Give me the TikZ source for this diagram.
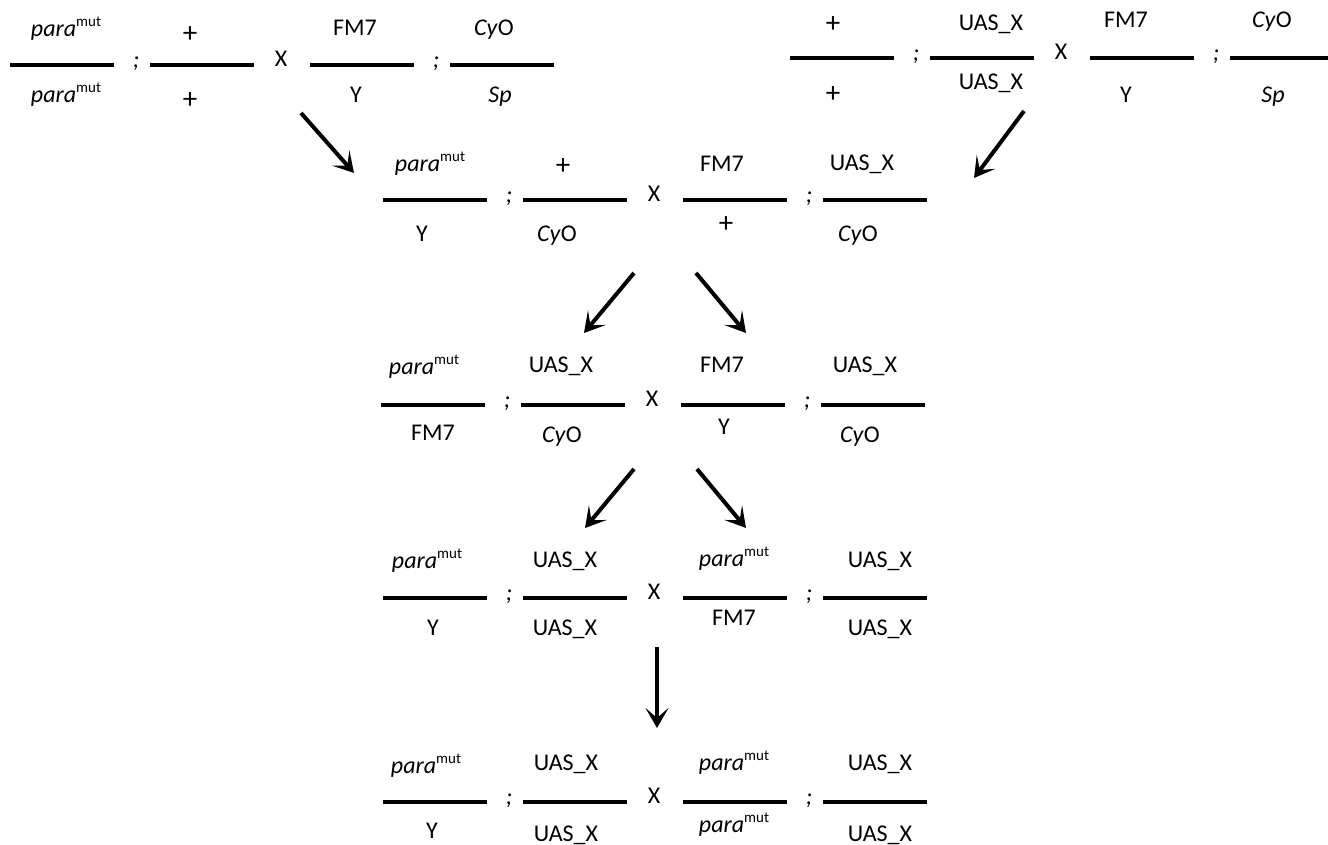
\documentclass[tikz,border=0pt]{standalone}
\usepackage{fontspec}
\setmainfont{Carlito}
\usetikzlibrary{arrows.meta}
\newcommand\pmut{\textit{para}\raisebox{0.42em}{\fontsize{15}{15}\selectfont mut}}
\newcommand\cyo{\textit{Cy}O}
\newcommand\spp{\textit{Sp}}
\newcommand\uas{UAS\_X}
\newcommand\plus{{\fontsize{29}{30}\selectfont +}}
% #1 name prefix, #2 x start of first line, #3 line y
\newcommand\crossrow[3]{%
  \draw[seg] (#2,#3) -- ++(104,0);
  \draw[seg] (#2+140,#3) -- ++(104,0);
  \draw[seg] (#2+300,#3) -- ++(104,0);
  \draw[seg] (#2+440,#3) -- ++(104,0);
  \node[sep] (#1-sc1) at (#2+126,#3) {;};
  \node[lbl] (#1-x) at (#2+271,#3-1) {X};
  \node[sep] (#1-sc2) at (#2+426,#3) {;};
}
\newcommand\lab[4]{\node[lbl] (#1) at (#2,#3) {#4};}
\begin{document}
\begin{tikzpicture}[x=1pt,y=-1pt,
  seg/.style={line width=4pt},
  lbl/.style={font=\fontsize{24}{28}\selectfont, inner sep=0pt, anchor=mid},
  sep/.style={lbl, font=\fontsize{24}{28}\selectfont\itshape},
  arr/.style={line width=4pt, -{Stealth[length=20pt,width=23pt,inset=10pt]}}]
\useasboundingbox (0,0) rectangle (1328,845);
\clip (0,0) rectangle (1328,845);

% row 1 left
\crossrow{ra}{10}{65}
\lab{ra-t1}{66}{34}{\pmut}
\lab{ra-t2}{190}{40}{\plus}
\lab{ra-t3}{355}{33}{FM7}
\lab{ra-t4}{494}{33}{\cyo}
\lab{ra-b1}{66}{100}{\pmut}
\lab{ra-b2}{190}{106}{\plus}
\lab{ra-b3}{356}{100}{Y}
\lab{ra-b4}{500}{100}{\spp}

% row 1 right
\crossrow{rb}{790}{58}
\lab{rb-t1}{833}{30}{\plus}
\lab{rb-t2}{991}{28}{\uas}
\lab{rb-t3}{1126}{25}{FM7}
\lab{rb-t4}{1272}{25}{\cyo}
\lab{rb-b1}{833}{100}{\plus}
\lab{rb-b2}{991}{87}{\uas}
\lab{rb-b3}{1126}{100}{Y}
\lab{rb-b4}{1273}{100}{\spp}

% row 2
\crossrow{rc}{383}{200}
\lab{rc-t1}{430}{169}{\pmut}
\lab{rc-t2}{563}{172}{\plus}
\lab{rc-t3}{722}{169}{FM7}
\lab{rc-t4}{862}{168}{\uas}
\lab{rc-b1}{422}{239}{Y}
\lab{rc-b2}{557}{239}{\cyo}
\lab{rc-b3}{726}{230}{\plus}
\lab{rc-b4}{858}{239}{\cyo}

% row 3
\crossrow{rd}{381}{405}
\lab{rd-t1}{424}{372}{\pmut}
\lab{rd-t2}{561}{370}{\uas}
\lab{rd-t3}{722}{370}{FM7}
\lab{rd-t4}{865}{370}{\uas}
\lab{rd-b1}{433}{438}{FM7}
\lab{rd-b2}{562}{440}{\cyo}
\lab{rd-b3}{724}{432}{Y}
\lab{rd-b4}{860}{440}{\cyo}

% row 4
\crossrow{re}{383}{598}
\lab{re-t1}{427}{566}{\pmut}
\lab{re-t2}{565}{565}{\uas}
\lab{re-t3}{734}{564}{\pmut}
\lab{re-t4}{880}{565}{\uas}
\lab{re-b1}{433}{633}{Y}
\lab{re-b2}{565}{633}{\uas}
\lab{re-b3}{734}{623}{FM7}
\lab{re-b4}{880}{633}{\uas}

% row 5
\crossrow{rf}{383}{802}
\lab{rf-t1}{426}{771}{\pmut}
\lab{rf-t2}{566}{768}{\uas}
\lab{rf-t3}{734}{768}{\pmut}
\lab{rf-t4}{880}{768}{\uas}
\lab{rf-b1}{432}{836}{Y}
\lab{rf-b2}{566}{839}{\uas}
\lab{rf-b3}{734}{830}{\pmut}
\lab{rf-b4}{880}{839}{\uas}

% arrows
\coordinate (a1s) at (301,113); \coordinate (a1e) at (354,173);
\coordinate (a2s) at (1024,111); \coordinate (a2e) at (974,178);
\coordinate (a3s) at (634,273); \coordinate (a3e) at (584,333);
\coordinate (a4s) at (696,273); \coordinate (a4e) at (746,333);
\coordinate (a5s) at (634,469); \coordinate (a5e) at (585,528);
\coordinate (a6s) at (697,469); \coordinate (a6e) at (746,528);
\coordinate (a7s) at (657,647); \coordinate (a7e) at (657,728);
\foreach \i in {1,...,7} \draw[arr] (a\i s) -- (a\i e);
\end{tikzpicture}
\end{document}
